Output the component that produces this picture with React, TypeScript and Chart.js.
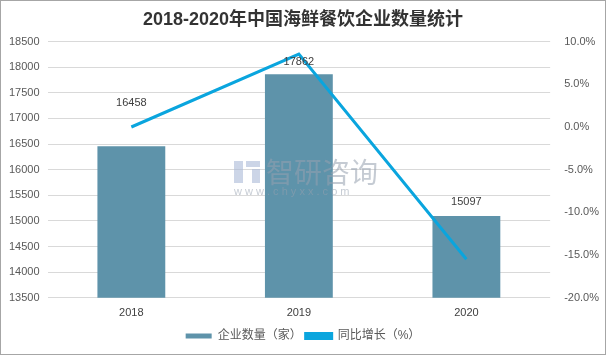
import React, { useEffect, useRef } from "react";
import { Chart, registerables } from "chart.js";

Chart.register(...registerables);

const categories = ["2018", "2019", "2020"];
const companyCounts = [16458, 17862, 15097];
const growthRates = [0.0, 8.53, -15.48];
const leftTicks = [13500, 14000, 14500, 15000, 15500, 16000, 16500, 17000, 17500, 18000, 18500];

const FONT = "'Liberation Sans', 'Noto Sans CJK SC', sans-serif";
const LABEL_GAP = [38, 7, 9];

const barLabelPlugin = {
  id: "barLabels",
  afterDatasetsDraw(chart: any) {
    const ctx = chart.ctx;
    const meta = chart.getDatasetMeta(1);
    ctx.save();
    ctx.font = `11px ${FONT}`;
    ctx.fillStyle = "#404040";
    ctx.textAlign = "center";
    ctx.textBaseline = "bottom";
    meta.data.forEach((bar: any, i: number) => {
      ctx.fillText(String(companyCounts[i]), bar.x, bar.y - LABEL_GAP[i]);
    });
    ctx.restore();
  },
};

const legendShiftPlugin = {
  id: "legendShift",
  afterLayout(chart: any) {
    if (chart.legend) {
      chart.legend.top += 5;
      chart.legend.bottom += 5;
    }
  },
};

const watermarkPlugin = {
  id: "watermark",
  afterDatasetsDraw(chart: any) {
    const ctx = chart.ctx;
    ctx.save();
    ctx.fillStyle = "rgba(150,160,175,0.55)";
    ctx.font = `28px 'Noto Sans CJK SC', sans-serif`;
    ctx.textAlign = "left";
    ctx.textBaseline = "middle";
    ctx.fillText("智研咨询", 265, 171);
    ctx.font = `11px ${FONT}`;
    ctx.fillText("w w w . c h y x x . c o m", 233, 191);
    ctx.fillStyle = "rgba(170,185,215,0.6)";
    ctx.fillRect(233, 160, 9, 22);
    ctx.fillRect(245, 160, 14, 6);
    ctx.fillRect(251, 168, 8, 14);
    ctx.restore();
  },
};

export default function App() {
  const ref = useRef<HTMLCanvasElement | null>(null);
  useEffect(() => {
    if (!ref.current) return;
    const chart = new Chart(ref.current, {
      data: {
        labels: categories,
        datasets: [
          {
            type: "line",
            label: "同比增长（%）",
            data: growthRates,
            yAxisID: "y1",
            borderColor: "#0AA5DE",
            backgroundColor: "#0AA5DE",
            borderWidth: 3,
            pointRadius: 0,
            tension: 0,
            order: 0,
          },
          {
            type: "bar",
            label: "企业数量（家）",
            data: companyCounts,
            yAxisID: "y",
            backgroundColor: "#5E93AA",
            categoryPercentage: 1,
            barPercentage: 0.405,
            order: 1,
          },
        ] as any,
      },
      options: {
        animation: false,
        responsive: false,
        layout: { padding: { left: 0, right: 0, top: 0, bottom: 7 } },
        plugins: {
          title: {
            display: true,
            text: "2018-2020年中国海鲜餐饮企业数量统计",
            color: "#333333",
            font: { family: FONT, size: 18, weight: "bold" },
            padding: { top: 8, bottom: 11 },
          },
          legend: {
            position: "bottom",
            reverse: true,
            labels: {
              color: "#595959",
              font: { family: FONT, size: 12 },
              boxWidth: 26,
              boxHeight: 5,
              padding: 4,
            },
          },
          tooltip: { enabled: false },
        },
        scales: {
          x: {
            grid: { display: false },
            border: { display: false },
            ticks: { color: "#404040", font: { family: FONT, size: 11 }, padding: 1 },
          },
          y: {
            position: "left",
            min: 13500,
            max: 18500,
            afterBuildTicks: (axis: any) => {
              axis.ticks = leftTicks.map((v) => ({ value: v }));
            },
            grid: { color: "#D9D9D9", drawTicks: false },
            border: { display: false },
            ticks: {
              color: "#595959",
              font: { family: FONT, size: 11 },
              padding: 8,
              callback: (v: any) => String(v),
            },
          },
          y1: {
            position: "right",
            min: -20,
            max: 10,
            ticks: {
              stepSize: 5,
              color: "#595959",
              font: { family: FONT, size: 11 },
              padding: 6,
              callback: (v: any) => Number(v).toFixed(1) + "%",
            },
            grid: { display: false },
            border: { display: false },
          },
        },
      } as any,
      plugins: [barLabelPlugin, watermarkPlugin, legendShiftPlugin],
    });
    return () => chart.destroy();
  }, []);
  return (
    <div
      style={{
        position: "fixed",
        left: 0,
        top: 0,
        width: 606,
        height: 355,
        boxSizing: "border-box",
        border: "1px solid #A6A6A6",
        background: "#fff",
      }}
    >
      <canvas ref={ref} width={604} height={353} style={{ display: "block" }} />
    </div>
  );
}
